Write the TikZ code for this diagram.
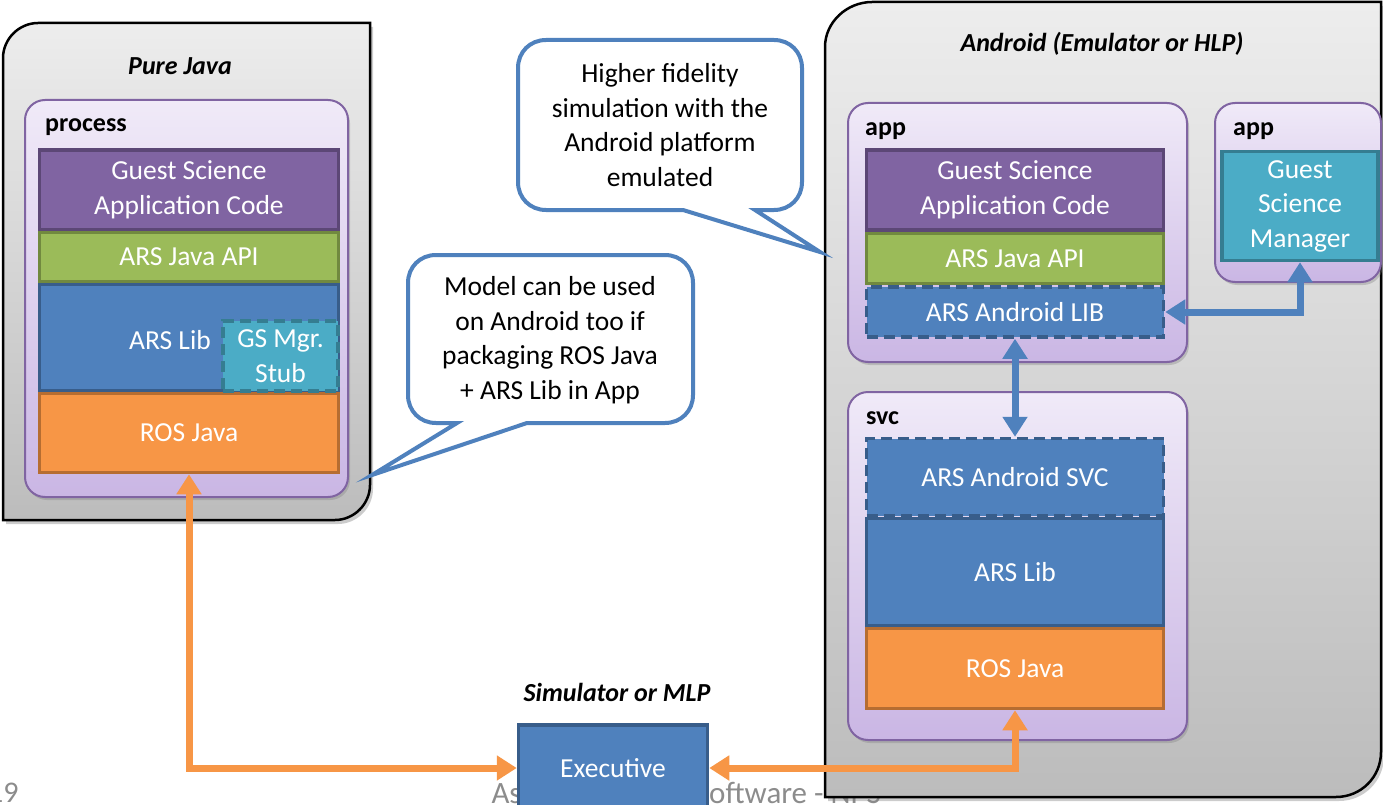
\documentclass[tikz,border=0pt]{standalone}
\usepackage{fontspec}
\setmainfont{Carlito}
\usetikzlibrary{arrows.meta,shadows}
\definecolor{cpurple}{HTML}{8064A2}
\definecolor{cpurpleB}{HTML}{5C4776}
\definecolor{cgreen}{HTML}{9BBB59}
\definecolor{cgreenB}{HTML}{71893F}
\definecolor{cblue}{HTML}{4F81BD}
\definecolor{cblueB}{HTML}{385D8A}
\definecolor{corange}{HTML}{F79646}
\definecolor{corangeB}{HTML}{B66D31}
\definecolor{cteal}{HTML}{4BACC6}
\definecolor{ctealB}{HTML}{357D91}
\definecolor{lavT}{HTML}{F0EAF8}
\definecolor{lavB}{HTML}{CAB6E4}
\definecolor{grayT}{HTML}{EDEDED}
\definecolor{grayB}{HTML}{BCBCBC}
\definecolor{footgray}{HTML}{8C8C8C}
\tikzset{
  body/.style={font=\fontsize{27.5}{34.5}\selectfont},
  layer/.style={draw, line width=3.5pt, text=white, align=center, inner sep=0pt, body},
  dashedlayer/.style={layer, dash pattern=on 11pt off 6pt},
  container/.style={draw=cpurple, line width=2pt, rounded corners=20pt, top color=lavT, bottom color=lavB,
    drop shadow={shadow xshift=2pt, shadow yshift=-3pt, opacity=0.35}},
  outerbox/.style={draw=black, line width=2.5pt, top color=grayT, bottom color=grayB,
    drop shadow={shadow xshift=3pt, shadow yshift=-4pt, opacity=0.4}},
  boxtitle/.style={font=\fontsize{26}{30}\selectfont\bfseries\itshape},
  boxlabel/.style={font=\fontsize{26}{30}\selectfont\bfseries, anchor=west, inner sep=0pt},
  callout/.style={draw=cblue, line width=4pt, fill=white},
  callouttext/.style={body, align=center, text=black},
  oarrow/.style={draw=corange, line width=7pt, {Triangle[width=24pt,length=20pt]}-{Triangle[width=24pt,length=20pt]}},
  barrow/.style={draw=cblue, line width=7pt, {Triangle[width=24pt,length=20pt]}-{Triangle[width=24pt,length=20pt]}},
}
\begin{document}
\begin{tikzpicture}[x=1pt,y=-1pt]
\useasboundingbox (0,0) rectangle (1383,805);
% footer
\node[font=\fontsize{30}{30}\selectfont, text=footgray, anchor=east] (pagenum) at (22,793) {19};
\node[font=\fontsize{31}{32}\selectfont, text=footgray, anchor=west] (footer) at (488,793) {Astrobee Robot Software - NPS};

% Android container
\path[outerbox] (825,797) -- (825,47) .. controls (825,22) and (847,2) .. (872,2) -- (1381,2) -- (1381,752) .. controls (1381,777) and (1361,797) .. (1336,797) -- cycle;
\node[boxtitle] (andtitle) at (1102,44) {Android (Emulator or HLP)};

% Pure Java container
\path[outerbox] (3,520) -- (3,58) .. controls (3,39) and (19,23) .. (38,23) -- (370,23) -- (370,485) .. controls (370,504) and (354,520) .. (335,520) -- cycle;
\node[boxtitle] (pjtitle) at (180,66) {Pure Java};

% process container
\path[container] (25,100) rectangle (348,497);
\node[boxlabel] (proclabel) at (45,127) {process};
\node[layer, fill=cpurple, draw=cpurpleB, minimum width=299pt, minimum height=80pt] (gsA) at (189,190) {Guest Science\\Application Code};
\node[layer, fill=cgreen, draw=cgreenB, minimum width=299pt, minimum height=49pt] (apiA) at (189,257) {ARS Java API};
\node[layer, fill=cblue, draw=cblueB, minimum width=299pt, minimum height=106pt] (libA) at (189,337.5) {};
\node[layer, fill=corange, draw=corangeB, minimum width=299pt, minimum height=79pt] (rosA) at (189,433) {ROS Java};
\node[body, text=white] (libAtxt) at (170,340) {ARS Lib};
\node[dashedlayer, fill=cteal, draw=ctealB, minimum width=115pt, minimum height=70pt] (stub) at (280.5,356) {GS Mgr.\\Stub};

% app container 1
\path[container] (848,103) rectangle (1187,362);
\node[boxlabel] (app1label) at (865,131) {app};
\node[layer, fill=cpurple, draw=cpurpleB, minimum width=297pt, minimum height=80pt] (gsB) at (1015,190) {Guest Science\\Application Code};
\node[layer, fill=cgreen, draw=cgreenB, minimum width=297pt, minimum height=50pt] (apiB) at (1015,258.5) {ARS Java API};
\node[dashedlayer, fill=cblue, draw=cblueB, minimum width=297pt, minimum height=50pt] (libB) at (1015,312) {ARS Android LIB};

% app container 2
\path[container] (1215,103) rectangle (1381,282);
\node[boxlabel] (app2label) at (1233,131) {app};
\node[layer, fill=cteal, draw=ctealB, minimum width=156pt, minimum height=109pt] (gsm) at (1300,206) {Guest\\Science\\Manager};

% svc container
\path[container] (848,392) rectangle (1187,740);
\node[boxlabel] (svclabel) at (866,418) {svc};
\node[dashedlayer, fill=cblue, draw=cblueB, minimum width=297pt, minimum height=77pt] (svcB) at (1015,477) {ARS Android SVC};
\node[layer, fill=cblue, draw=cblueB, minimum width=297pt, minimum height=107pt] (libC) at (1015,572) {ARS Lib};
\node[layer, fill=corange, draw=corangeB, minimum width=297pt, minimum height=80pt] (rosC) at (1015,668.5) {ROS Java};

% Simulator / Executive
\node[boxtitle] (simtitle) at (617,692) {Simulator or MLP};
\node[layer, fill=cblue, draw=cblueB, minimum width=189pt, minimum height=86pt] (exec) at (613,768) {Executive};

% callouts
\path[callout] (546,40) -- (774,40) .. controls (790,40) and (802,52) .. (802,68) -- (802,182) .. controls (802,198) and (790,210) .. (774,210) -- (755,210) -- (820,252) -- (683,210) -- (546,210) .. controls (530,210) and (518,198) .. (518,182) -- (518,68) .. controls (518,52) and (530,40) .. (546,40) -- cycle;
\node[callouttext] (c1) at (660,125) {Higher fidelity\\simulation with the\\Android platform\\emulated};
\path[callout] (436,255) -- (665,255) .. controls (681,255) and (693,267) .. (693,283) -- (693,395) .. controls (693,411) and (681,423) .. (665,423) -- (527,423) -- (372,475) -- (457,423) -- (436,423) .. controls (420,423) and (408,411) .. (408,395) -- (408,283) .. controls (408,267) and (420,255) .. (436,255) -- cycle;
\node[callouttext] (c2) at (550,340) {Model can be used\\on Android too if\\packaging ROS Java\\+ ARS Lib in App};

% connectors
\draw[oarrow] (rosA.south) |- (exec.west);
\draw[oarrow] (exec.east) -| (rosC.south);
\draw[barrow] (libB.south) -- (svcB.north);
\draw[barrow] (libB.east) -| (gsm.south);
\end{tikzpicture}
\end{document}
